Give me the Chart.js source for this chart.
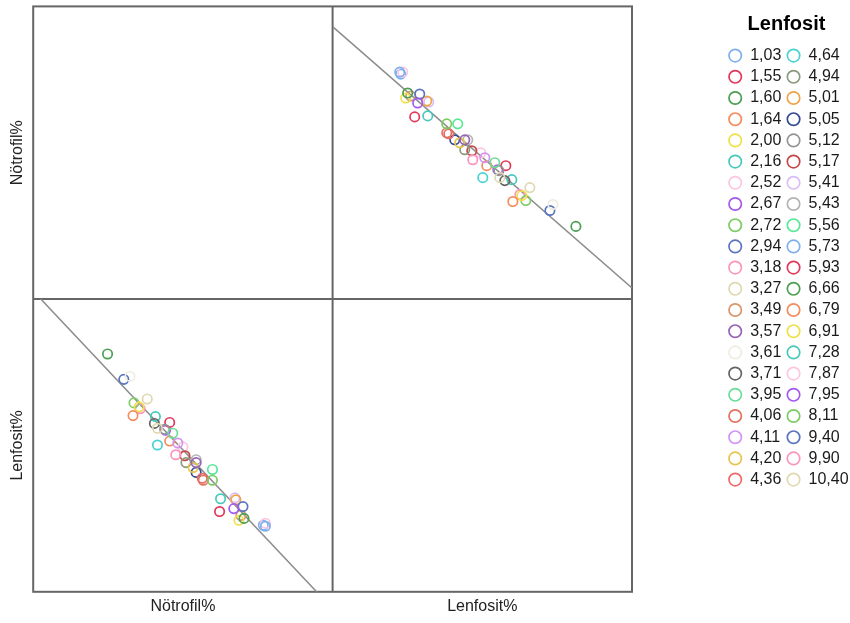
<!DOCTYPE html>
<html>
<head>
<meta charset="utf-8">
<script src="https://cdn.jsdelivr.net/npm/chart.js@4.4.1/dist/chart.umd.min.js"></script>
<style>
html, body { margin: 0; padding: 0; background: #ffffff; }
#wrap { width: 850px; height: 623px; position: relative; }
</style>
</head>
<body>
<div id="wrap"><canvas id="c"></canvas></div>
<script>
// ---- data ----
const categories = ['1,03','1,55','1,60','1,64','2,00','2,16','2,52','2,67','2,72','2,94','3,18','3,27','3,49','3,57','3,61','3,71','3,95','4,06','4,11','4,20','4,36',
                    '4,64','4,94','5,01','5,05','5,12','5,17','5,41','5,43','5,56','5,73','5,93','6,66','6,79','6,91','7,28','7,87','7,95','8,11','9,40','9,90','10,40'];
const lenfositPct = [11.20,13.71,12.54,30.10,12.21,15.89,11.71,14.21,19.06,14.55,23.41,27.93,13.04,22.07,36.79,28.76,27.09,19.06,25.42,21.24,19.40,
                     25.08,22.07,15.72,20.40,27.76,23.24,16.05,22.57,20.90,11.37,28.93,40.63,25.75,31.60,29.93,24.75,27.59,32.27,36.29,31.27,32.94];
const notrofilPct = [81.53,72.35,77.24,55.00,76.22,72.55,81.53,75.20,70.92,77.04,63.57,59.90,76.63,67.65,54.39,59.29,62.96,69.08,63.98,67.04,68.88,
                     59.90,65.61,75.61,67.65,61.33,65.41,75.41,67.65,70.92,81.12,62.35,49.90,62.35,56.22,59.49,65.00,61.53,55.20,53.16,56.43,57.86];
const lenfositRange = [0, 50];
const notrofilRange = [35, 95];
// fit lines: [intercept, slope]
const fitNotrofilOnLenfosit = [90.86, -1.0714];
const fitLenfositOnNotrofil = [83.05, -0.9047];

// ---- styles ----
const palette = ['#7fb0ee','#e2385a','#4c9e52','#f58c5e','#efe04a','#46c9b9','#fcc6e0','#a45af0','#7ccc64','#5a74c2',
                 '#fc94bc','#e0d8b0','#d8966a','#9a62b4','#f0ece0','#646464','#6cdc9a','#e0735e','#d494f4','#e8c44a',
                 '#f06868','#48d2d2','#8a9a7e','#f0a448','#344c94','#949494','#c44646','#dcbcf4','#b4b4b4','#58e898'];
const FONT = '"Liberation Sans", Arial, sans-serif';

const datasets = [];
categories.forEach((cat, i) => {
  const color = palette[i % palette.length];
  datasets.push({
    label: cat, inLegend: true,
    data: [{ x: lenfositPct[i], y: notrofilPct[i] }],
    xAxisID: 'xL', yAxisID: 'yN',
    borderColor: color, backgroundColor: 'rgba(0,0,0,0)',
    pointRadius: 4.7, pointHoverRadius: 4.7, pointBorderWidth: 1.7, borderWidth: 1.7
  });
});
categories.forEach((cat, i) => {
  const color = palette[i % palette.length];
  datasets.push({
    label: cat, inLegend: false,
    data: [{ x: notrofilPct[i], y: lenfositPct[i] }],
    xAxisID: 'xN', yAxisID: 'yL',
    borderColor: color, backgroundColor: 'rgba(0,0,0,0)',
    pointRadius: 4.7, pointHoverRadius: 4.7, pointBorderWidth: 1.7, borderWidth: 1.7
  });
});
const fitLine = (coef, range) => range.map(v => ({ x: v, y: coef[0] + coef[1] * v }));
datasets.push({
  label: 'fitTR', inLegend: false, showLine: true,
  data: fitLine(fitNotrofilOnLenfosit, lenfositRange),
  xAxisID: 'xL', yAxisID: 'yN',
  borderColor: '#8c8c8c', borderWidth: 1.5, pointRadius: 0, pointHoverRadius: 0
});
datasets.push({
  label: 'fitBL', inLegend: false, showLine: true,
  data: fitLine(fitLenfositOnNotrofil, notrofilRange),
  xAxisID: 'xN', yAxisID: 'yL',
  borderColor: '#8c8c8c', borderWidth: 1.5, pointRadius: 0, pointHoverRadius: 0
});

const framePlugin = {
  id: 'frame',
  beforeDatasetsDraw(chart) {
    const { ctx, scales: { xN, xL, yN, yL } } = chart;
    ctx.save();
    ctx.strokeStyle = '#666666';
    ctx.lineWidth = 2;
    ctx.strokeRect(xN.left, yN.top, xL.right - xN.left, yL.bottom - yN.top);
    ctx.beginPath();
    ctx.moveTo(xN.right, yN.top); ctx.lineTo(xN.right, yL.bottom);
    ctx.moveTo(xN.left, yN.bottom); ctx.lineTo(xL.right, yN.bottom);
    ctx.stroke();
    ctx.restore();
  }
};

const hiddenAxis = (extra) => Object.assign({
  type: 'linear', ticks: { display: false }, grid: { display: false, drawTicks: false }, border: { display: false }
}, extra);
const axisTitle = (text, padding) => ({ display: true, text, color: '#222222', font: { family: FONT, size: 16 }, padding });

new Chart(document.getElementById('c'), {
  type: 'scatter',
  data: { datasets },
  options: {
    responsive: true, maintainAspectRatio: false, animation: false, devicePixelRatio: 1,
    layout: { padding: { top: 3, left: 0, right: 0, bottom: 0 } },
    scales: {
      xN: hiddenAxis({ position: 'bottom', stack: 'h', stackWeight: 1, weight: 1, min: notrofilRange[0], max: notrofilRange[1],
                       title: axisTitle('Nötrofil%', { top: 5, bottom: 7 }) }),
      xL: hiddenAxis({ position: 'bottom', stack: 'h', stackWeight: 1, weight: 2, min: lenfositRange[0], max: lenfositRange[1],
                       title: axisTitle('Lenfosit%', { top: 5, bottom: 7 }) }),
      yN: hiddenAxis({ position: 'left', stack: 'v', stackWeight: 1, weight: 2, min: notrofilRange[0], max: notrofilRange[1],
                       title: axisTitle('Nötrofil%', { top: 8, bottom: 6 }) }),
      yL: hiddenAxis({ position: 'left', stack: 'v', stackWeight: 1, weight: 1, min: lenfositRange[0], max: lenfositRange[1],
                       title: axisTitle('Lenfosit%', { top: 8, bottom: 6 }) }),
      gap: hiddenAxis({ position: 'right', display: false, weight: 0, afterFit: (s) => { s.width = 91; } }),
      legendSlot: hiddenAxis({ position: 'right', display: false, weight: 2000, stack: 'legend', stackWeight: 0.16 })
    },
    plugins: {
      tooltip: { enabled: false },
      legend: {
        position: 'right', align: 'start', fullSize: false, weight: 1000,
        stack: 'legend', stackWeight: 0.84, maxWidth: 127,
        labels: {
          usePointStyle: true, boxWidth: 14, boxHeight: 8.8, padding: 5.2,
          color: '#1a1a1a', font: { family: FONT, size: 16 },
          filter: (item, data) => data.datasets[item.datasetIndex].inLegend
        },
        title: { display: true, text: 'Lenfosit', color: '#000000',
                 font: { family: FONT, size: 20, weight: 'bold' }, padding: { top: 8, bottom: 4 } }
      }
    }
  },
  plugins: [framePlugin]
});
</script>
</body>
</html>
